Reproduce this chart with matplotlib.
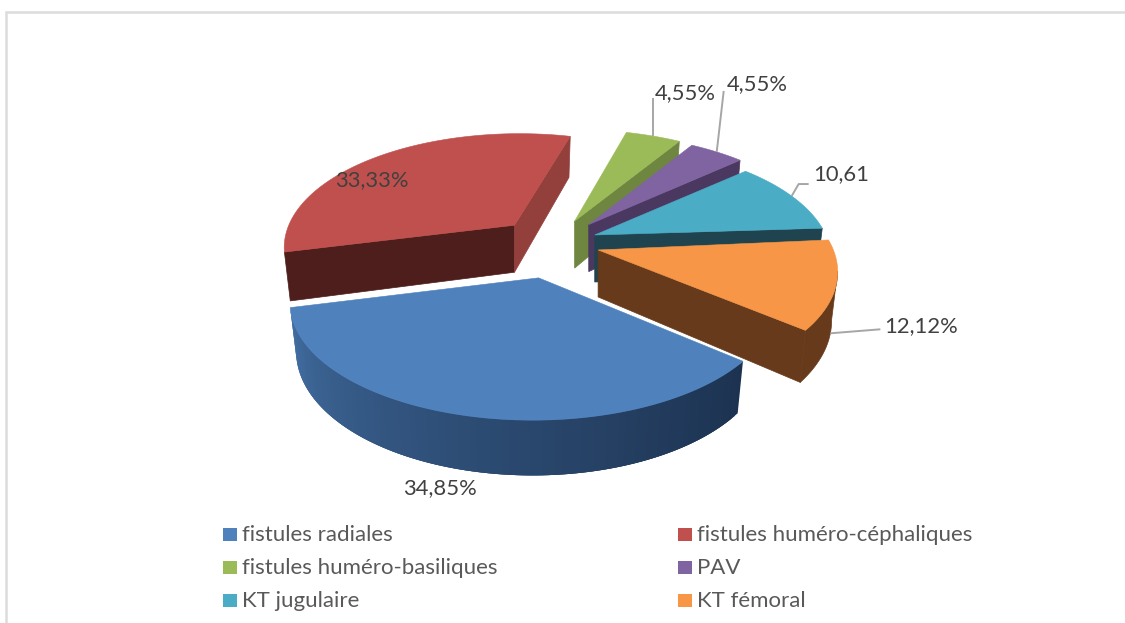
import numpy as np
import matplotlib
matplotlib.use("Agg")
import matplotlib.pyplot as plt
from matplotlib.patches import Polygon, Rectangle
from matplotlib.colors import to_rgb

# Dialysis access distribution
categories = ["fistules radiales", "fistules huméro-céphaliques", "fistules huméro-basiliques",
              "PAV", "KT jugulaire", "KT fémoral"]
shares = [34.85, 33.33, 4.55, 4.55, 10.61, 12.12]
value_labels = ["34,85%", "33,33%", "4,55%", "4,55%", "10,61", "12,12%"]

top_colors = ["#4F81BD", "#C0504D", "#9BBB59", "#8064A2", "#4BACC6", "#F79646"]
cut_colors = ["#1E3550", "#4D1E1C", "#6F8640", "#4B3860", "#1F444F", "#663A1B"]
side_colors = ["#1E3550", "#93403D", "#6F8640", "#4B3860", "#1F444F", "#663A1B"]
blue_rim_left, blue_rim_right = "#4674AA", "#1C3250"

plt.rcParams["font.family"] = ["Lato", "DejaVu Sans"]

# Projection of the tilted pie
CX, CY = 549.6, 248.6
A, B, PERSP = 237.0, 112.0, 0.213
EXPL_X, EXPL_Y = 50.0, 30.0
DEPTH, DEPTH_PERSP, FLOOR_SHRINK = 47.0, 0.15, 0.975
START_DEG = -40.0
RIM_LIMITS = (-168.0, -12.0)
# Per-slice corrections for the perspective of exploded slices
NUDGE = [(0, 0), (0, -2), (5, 0), (7, -1), (-1, -2), (1, -8)]
SCALE = [1.0, 0.97, 0.99, 0.985, 0.975, 1.0]
RIM_SHIFT = [(-6, 0), (5, -2), (0, 0), (-1, 0), (0, 0), (-3, -3)]


def unit_rim(theta):
    """Projected rim point at theta degrees, relative to the slice apex."""
    u, v = np.cos(np.radians(theta)), np.sin(np.radians(theta))
    den = 1 + PERSP * v
    return A * u / den, -B * v / den


fig = plt.figure(figsize=(11.25, 6.23), dpi=100, facecolor="white")
ax = fig.add_axes([0, 0, 1, 1])
ax.set_xlim(0, 1125)
ax.set_ylim(623, 0)
ax.axis("off")

# Chart frame, open to the right and the bottom
ax.plot([6, 6, 1125], [623, 12, 12], color="#DCDCDC", lw=1.8, solid_joinstyle="miter")

# Slice spans run clockwise from START_DEG, normalised around the front of the pie
fractions = np.array(shares) / np.sum(shares) * 360
ends = START_DEG - np.cumsum(fractions)
starts = ends + fractions
mids = (starts + ends) / 2
wrap = np.where(mids < -270, 360.0, 0.0)
starts, ends, mids = starts + wrap, ends + wrap, mids + wrap

apex = [(CX + EXPL_X * np.cos(np.radians(m)) + n[0],
         CY - EXPL_Y * np.sin(np.radians(m)) + n[1]) for m, n in zip(mids, NUDGE)]


def top_xy(i, theta):
    dx, dy = unit_rim(theta)
    return (apex[i][0] + SCALE[i] * dx + RIM_SHIFT[i][0],
            apex[i][1] + SCALE[i] * dy + RIM_SHIFT[i][1])


def floor_xy(i, theta):
    dx, dy = unit_rim(theta)
    v = np.sin(np.radians(theta))
    return (apex[i][0] + FLOOR_SHRINK * SCALE[i] * dx + RIM_SHIFT[i][0],
            apex[i][1] + SCALE[i] * dy + RIM_SHIFT[i][1] + DEPTH / (1 + DEPTH_PERSP * v))


# Back slices first, the front slice last
order = [1, 2, 3, 4, 5, 0]
for layer, i in enumerate(order):
    s, e, m = starts[i], ends[i], mids[i]
    ap = apex[i]
    ap_floor = (ap[0], ap[1] + DEPTH)
    mdx, mdy = unit_rim(m)

    # Radial cut faces: shown only where the wedge lies above the edge on screen
    for theta in (s, e):
        ex, ey = unit_rim(theta)
        cross = ex * (-mdy) - (-ey) * mdx
        if not (cross > 0 if ex > 0 else cross < 0):
            continue
        colour = side_colors[i] if (i == 1 and ex > 0) else cut_colors[i]
        ax.add_patch(Polygon([ap, top_xy(i, theta), floor_xy(i, theta), ap_floor],
                             closed=True, fc=colour, ec=colour, lw=0.5, zorder=layer * 3 + 1))

    # Outer rim, only the part turned towards the viewer
    lo, hi = max(e, RIM_LIMITS[0]), min(s, RIM_LIMITS[1])
    if hi > lo + 5:
        steps = np.linspace(hi, lo, 100)
        if i == 0:
            # Shaded rim: each band overlaps the next one so no seams show
            c0, c1 = np.array(to_rgb(blue_rim_left)), np.array(to_rgb(blue_rim_right))
            for k in range(len(steps) - 1):
                a, b = steps[k], steps[min(k + 3, len(steps) - 1)]
                t = np.clip((steps[k] + 165) / 125, 0, 1)
                col = c0 + (c1 - c0) * t ** 0.75
                ax.add_patch(Polygon([top_xy(i, a), top_xy(i, b), floor_xy(i, b), floor_xy(i, a)],
                                     closed=True, fc=col, ec="none", zorder=layer * 3 + 1))
        else:
            outline = [top_xy(i, t) for t in steps] + [floor_xy(i, t) for t in steps[::-1]]
            ax.add_patch(Polygon(outline, closed=True, fc=side_colors[i], ec=side_colors[i],
                                 lw=0.5, zorder=layer * 3 + 1))

    # Upper face of the slice
    arc = np.linspace(s, e, 120)
    ax.add_patch(Polygon([ap] + [top_xy(i, t) for t in arc], closed=True,
                         fc=top_colors[i], ec=top_colors[i], lw=0.4, zorder=layer * 3 + 2))

# Value labels with their leader lines
LEADER = "#A6A6A6"
label_pos = [(440, 488), (372, 180), (685, 93), (757, 84), (841, 174), (921, 326)]
leaders = {2: [(0, 0), (0, -38)],
           3: [(0, 0), (7, -61)],
           4: [(0, 0), (7, -12), (17, -12)],
           5: [(0, 0), (50, -4)]}
for i, offs in leaders.items():
    x0, y0 = floor_xy(i, -18.0) if i == 5 else top_xy(i, mids[i])
    ax.plot([x0 + o[0] for o in offs], [y0 + o[1] for o in offs], color=LEADER, lw=1.4,
            zorder=30, solid_capstyle="butt")

for (x, y), txt in zip(label_pos, value_labels):
    ax.text(x, y, txt, ha="center", va="center", fontsize=15.8, color="#404040", zorder=40)

# Legend in two columns
col_x = [223, 678]
row_y = [534, 567, 600]
for idx, name in enumerate(categories):
    x = col_x[idx % 2]
    y = row_y[idx // 2]
    ax.add_patch(Rectangle((x, y - 6.5), 14, 13, fc=top_colors[idx], ec="none", zorder=40))
    ax.text(x + 19, y + 1, name, ha="left", va="center", fontsize=16, color="#595959", zorder=40)

fig.savefig("out.png", dpi=100, facecolor="white")
